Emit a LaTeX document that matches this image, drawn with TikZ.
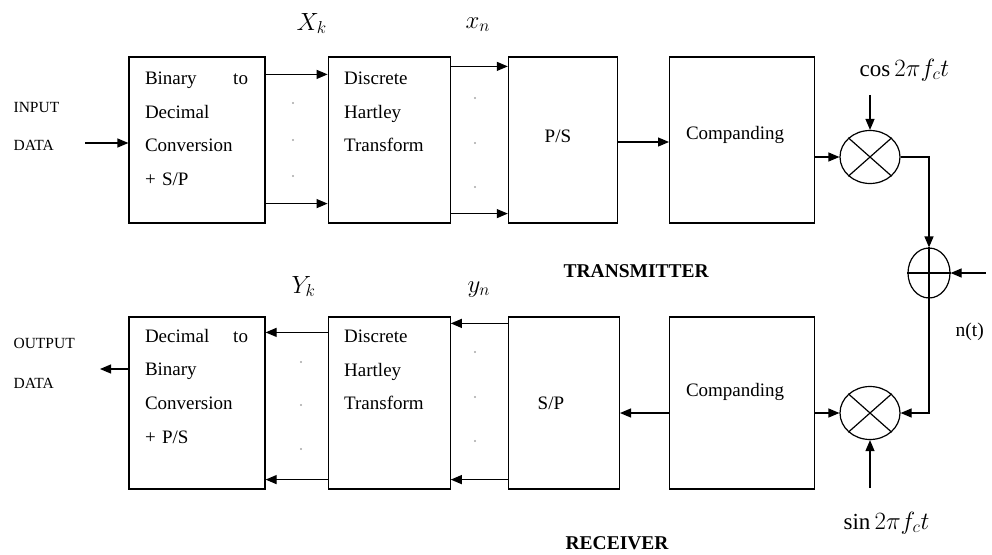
\documentclass[tikz,border=0pt]{standalone}
\usepackage{fontspec}
\setmainfont{Liberation Serif}
\usepackage{amsmath}
\usetikzlibrary{arrows.meta,positioning,shapes.geometric}

\begin{document}
\begin{tikzpicture}[
  x=1pt, y=-1pt,
  line width=1.2pt,
  >={Triangle[length=11pt,width=9pt]},
  block/.style={draw, minimum width=136pt, minimum height=166pt, inner sep=0pt},
  tall/.style={minimum height=172pt},
  txt/.style={font=\fontsize{19}{33.7}\selectfont, align=left, inner sep=0pt},
  io/.style={font=\fontsize{15.5}{17}\selectfont, anchor=base west, inner sep=0pt},
  sym/.style={font=\fontsize{23}{25}\selectfont, anchor=base west, inner sep=0pt},
  ttl/.style={font=\fontsize{19.5}{22}\selectfont\bfseries, anchor=base west, inner sep=0pt},
  mixer/.style={draw, ellipse, minimum width=60pt, minimum height=53pt, inner sep=0pt},
  adder/.style={draw, ellipse, minimum width=42pt, minimum height=50pt, inner sep=0pt},
  arr/.style={->},
  dot/.style={fill=black!35}
]
\useasboundingbox (0,0) rectangle (992,554);

% ---------- transmitter ----------
\node[block] (b2d) at (197,140) {};
\node[block, minimum width=122pt, right=62pt of b2d] (dht) {};
\node[block, minimum width=109pt, right=57pt of dht] (ps) {};
\node[block, minimum width=145pt, right=51pt of ps] (comp) {};
\node[mixer] (mix1) at (870,157) {};
\node[adder] (add) at (929,273) {};

\node[txt, text width=103pt, anchor=north west] (b2dtxt) at ([shift={(16,15)}]b2d.north west)
  {Binary\hfill to\\Decimal\\Conversion\\+ S/P};
\node[txt, anchor=north west] (dhttxt) at ([shift={(16,15)}]dht.north west)
  {Discrete\\Hartley\\Transform};
\node[txt, anchor=base] (pstxt) at ([shift={(-5,2)}]ps.center) {P/S};
\node[txt, anchor=base] (comptxt) at ([shift={(-7,-0.5)}]comp.center) {Companding};

% mixer and adder marks
\draw (mix1.north west) -- (mix1.south east) (mix1.north east) -- (mix1.south west);
\draw (add.north) -- (add.south) (add.west) -- (add.east);

\node[io] (inlbl) at (13,112) {INPUT};
\node[io] (indata) at (13,150) {DATA};
\node[sym] (xk) at (296,30) {$X_k$};
\node[sym] (xn) at (465,28) {$x_n$};
\node[sym] (cosl) at (859,76) {$\cos 2\pi f_c t$};
\node[ttl] (tx) at (563,277) {TRANSMITTER};
\node[font=\fontsize{19.5}{22}\selectfont, anchor=base west, inner sep=0pt] (nt) at (955,336) {n(t)};

\coordinate (in) at (85,143);
\coordinate (cosin) at ([yshift=35pt]mix1.north);
\coordinate (nin) at ([xshift=35pt]add.east);

\draw[arr] (in) -- (in -| b2d.west);
\draw[arr] ([yshift=-18pt]b2d.north east) -- ([yshift=-18pt]b2d.north east -| dht.west);
\draw[arr] ([yshift=20pt]b2d.south east) -- ([yshift=20pt]b2d.south east -| dht.west);
\draw[arr] ([yshift=-10pt]dht.north east) -- ([yshift=-10pt]dht.north east -| ps.west);
\draw[arr] ([yshift=10pt]dht.south east) -- ([yshift=10pt]dht.south east -| ps.west);
\draw[arr] ([yshift=-2pt]ps.east) -- ([yshift=-2pt]ps.east -| comp.west);
\draw[arr] (comp.east |- mix1) -- (mix1.west);
\draw[arr] (cosin) -- (mix1.north);
\draw[arr] (mix1.east) -| (add.north);
\draw[arr] (nin) -- (add.east);

\foreach \y in {103,140,176} \fill[dot] (293,\y) circle (1.2pt);
\foreach \y in {98,143,187} \fill[dot] (475,\y) circle (1.2pt);

% ---------- receiver ----------
\node[block, tall] (d2b) at (197,403) {};
\node[block, tall, minimum width=122pt, right=62pt of d2b] (dht2) {};
\node[block, tall, minimum width=111pt, right=57pt of dht2] (sp) {};
\node[block, tall, minimum width=145pt, right=49pt of sp] (comp2) {};
\node[mixer] (mix2) at (870,413) {};

\node[txt, text width=103pt, anchor=north west] (d2btxt) at ([shift={(16,12)}]d2b.north west)
  {Decimal\hfill to\\Binary\\Conversion\\+ P/S};
\node[txt, anchor=north west] (dht2txt) at ([shift={(16,13)}]dht2.north west)
  {Discrete\\Hartley\\Transform};
\node[txt, anchor=base] (sptxt) at ([shift={(-13,6)}]sp.center) {S/P};
\node[txt, anchor=base] (comp2txt) at ([shift={(-7,-7)}]comp2.center) {Companding};

\draw (mix2.north west) -- (mix2.south east) (mix2.north east) -- (mix2.south west);

\node[io] (outlbl) at (13,348) {OUTPUT};
\node[io] (outdata) at (13,388) {DATA};
\node[sym] (yk) at (291,293) {$Y_k$};
\node[sym] (yn) at (467,292) {$y_n$};
\node[sym] (sinl) at (843,529) {$\sin 2\pi f_c t$};
\node[ttl] (rx) at (565,549) {RECEIVER};

\coordinate (out) at (100,369);
\coordinate (sinin) at ([yshift=-48pt]mix2.south);

\draw[arr] (add.south) |- (mix2.east);
\draw[arr] (sinin) -- (mix2.south);
\draw[arr] (comp2.east |- mix2) -- (mix2.west);
\draw[arr] (comp2.west |- mix2) -- (mix2 -| sp.east);
\draw[arr] ([yshift=-7pt]sp.north west) -- ([yshift=-7pt]sp.north west -| dht2.east);
\draw[arr] ([yshift=10pt]sp.south west) -- ([yshift=10pt]sp.south west -| dht2.east);
\draw[arr] ([yshift=-16pt]dht2.north west) -- ([yshift=-16pt]dht2.north west -| d2b.east);
\draw[arr] ([yshift=10pt]dht2.south west) -- ([yshift=10pt]dht2.south west -| d2b.east);
\draw[arr] (out -| d2b.west) -- (out);

\foreach \y in {362,405,449} \fill[dot] (301,\y) circle (1.2pt);
\foreach \y in {352,397,441} \fill[dot] (475,\y) circle (1.2pt);

\end{tikzpicture}
\end{document}
